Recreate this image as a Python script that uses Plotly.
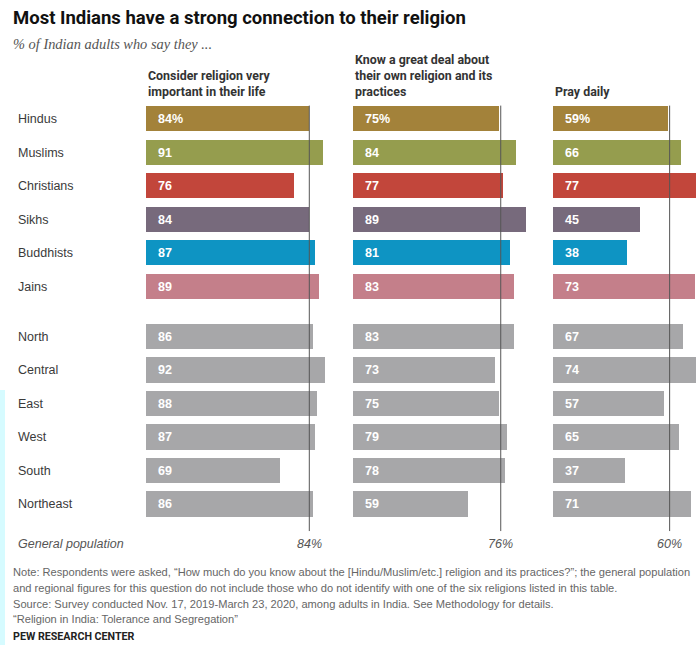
import plotly.graph_objects as go

W, H = 696, 651

# ---- data ----
religions = ["Hindus", "Muslims", "Christians", "Sikhs", "Buddhists", "Jains"]
regions = ["North", "Central", "East", "West", "South", "Northeast"]
categories = religions + regions

important = [84, 91, 76, 84, 87, 89, 86, 92, 88, 87, 69, 86]
know = [75, 84, 77, 89, 81, 83, 83, 73, 75, 79, 78, 59]
pray = [59, 66, 77, 45, 38, 73, 67, 74, 57, 65, 37, 71]

general = [84, 76, 60]
headers = ["Consider religion very<br>important in their life",
           "Know a great deal about<br>their own religion and its<br>practices",
           "Pray daily"]

religion_colors = ["#A3823A", "#959D4E", "#C2463B", "#776A7C", "#0E94C3", "#C47F8A"]
region_color = "#A7A7A9"
colors = religion_colors + [region_color] * len(regions)

# y positions: religions, then a 1.5-row gap, then regions
ypos = [i for i in range(len(religions))] + [len(religions) + 0.5 + i for i in range(len(regions))]

def fx(px):
    return px / W

def fy(py):
    return 1 - py / H

# pixel geometry
PX_PER_UNIT = 1.944
ROW0, ROW_STEP = 119, 33.5
panel_left = [146, 353, 553]
y_top_px = ROW0 - 0.5 * ROW_STEP
y_bot_px = ROW0 + 12.5 * ROW_STEP

SANS = "Roboto"

fig = go.Figure()
series = [important, know, pray]
axes = ["x", "x2", "x3"]
for k, vals in enumerate(series):
    fig.add_trace(go.Bar(
        x=vals, y=ypos, orientation="h", width=0.76,
        marker=dict(color=colors, line=dict(width=0)),
        xaxis=axes[k], yaxis="y", hoverinfo="skip", showlegend=False,
    ))

layout = dict(
    width=W, height=H, margin=dict(l=0, r=0, t=0, b=0),
    paper_bgcolor="white", plot_bgcolor="rgba(0,0,0,0)",
    bargap=0, showlegend=False,
    yaxis=dict(domain=[fy(y_bot_px), fy(y_top_px)], range=[12.5, -0.5],
               visible=False, fixedrange=True),
)
for k in range(3):
    left = panel_left[k]
    right = min(left + 100 * PX_PER_UNIT, W)
    key = "xaxis" if k == 0 else f"xaxis{k+1}"
    layout[key] = dict(domain=[fx(left), fx(right)],
                       range=[0, (right - left) / PX_PER_UNIT],
                       visible=False, anchor="y", fixedrange=True)
fig.update_layout(**layout)

annotations = []
# title & subtitle
annotations.append(dict(text="<b>Most Indians have a strong connection to their religion</b>",
                        xref="paper", yref="paper", x=fx(11), y=fy(18),
                        xanchor="left", yanchor="middle", showarrow=False,
                        font=dict(family=SANS, size=18.5, color="#111111")))
annotations.append(dict(text="<i>% of Indian adults who say they ...</i>",
                        xref="paper", yref="paper", x=fx(11), y=fy(44),
                        xanchor="left", yanchor="middle", showarrow=False,
                        font=dict(family="Liberation Serif", size=14.4, color="#555555")))
# column headers
for k in range(3):
    annotations.append(dict(text="<b>" + headers[k] + "</b>",
                            xref="paper", yref="paper", x=fx(panel_left[k]), y=fy(101.5),
                            xanchor="left", yanchor="bottom", align="left", showarrow=False,
                            font=dict(family=SANS, size=12.4, color="#333333")))
# category labels
for name, yp in zip(categories, ypos):
    annotations.append(dict(text=name, xref="paper", yref="y", x=fx(16), y=yp,
                            xanchor="left", yanchor="middle", showarrow=False,
                            font=dict(family="Liberation Sans", size=12.5, color="#3a3a3a")))
# value labels
for k, vals in enumerate(series):
    for i, (v, yp) in enumerate(zip(vals, ypos)):
        txt = f"<b>{v}%</b>" if i == 0 else f"<b>{v}</b>"
        annotations.append(dict(text=txt, xref=axes[k], yref="y", x=0, y=yp,
                                xanchor="left", yanchor="middle", xshift=10, showarrow=False,
                                font=dict(family="Liberation Sans", size=12.5, color="white")))
# general population
annotations.append(dict(text="<i>General population</i>", xref="paper", yref="paper",
                        x=fx(16), y=fy(544), xanchor="left", yanchor="middle", showarrow=False,
                        font=dict(family="Liberation Sans", size=12.5, color="#555555")))
for k, g in enumerate(general):
    annotations.append(dict(text=f"<i>{g}%</i>", xref=axes[k], yref="paper",
                            x=g, y=fy(544), xanchor="center", yanchor="middle", showarrow=False,
                            font=dict(family="Liberation Sans", size=12.5, color="#555555")))
# notes
notes = [
    "Note: Respondents were asked, “How much do you know about the [Hindu/Muslim/etc.] religion and its practices?”; the general population",
    "and regional figures for this question do not include those who do not identify with one of the six religions listed in this table.",
    "Source: Survey conducted Nov. 17, 2019-March 23, 2020, among adults in India. See Methodology for details.",
    "“Religion in India: Tolerance and Segregation”",
]
note_y = [572, 588, 604, 619]
for t, yy in zip(notes, note_y):
    annotations.append(dict(text=t, xref="paper", yref="paper", x=fx(11), y=fy(yy),
                            xanchor="left", yanchor="middle", showarrow=False,
                            font=dict(family="Liberation Sans", size=11.1, color="#666666")))
annotations.append(dict(text="<b>PEW RESEARCH CENTER</b>", xref="paper", yref="paper",
                        x=fx(11), y=fy(636), xanchor="left", yanchor="middle", showarrow=False,
                        font=dict(family=SANS, size=10.7, color="#222222")))

shapes = []
for k, g in enumerate(general):
    shapes.append(dict(type="line", xref=axes[k], yref="y", x0=g, x1=g,
                       y0=-0.4, y1=12.3, line=dict(color="#555555", width=1), layer="above"))
# left-edge tint strip present in the reference image
shapes.append(dict(type="rect", xref="paper", yref="paper", x0=0, x1=fx(5),
                   y0=fy(645), y1=fy(390), fillcolor="#D6FBFF", line=dict(width=0), layer="below"))

fig.update_layout(annotations=annotations, shapes=shapes)
fig.write_html("out.html", config={"displayModeBar": False},
               post_script="document.body.style.margin='0';document.body.style.padding='0';document.body.style.overflow='hidden';")
